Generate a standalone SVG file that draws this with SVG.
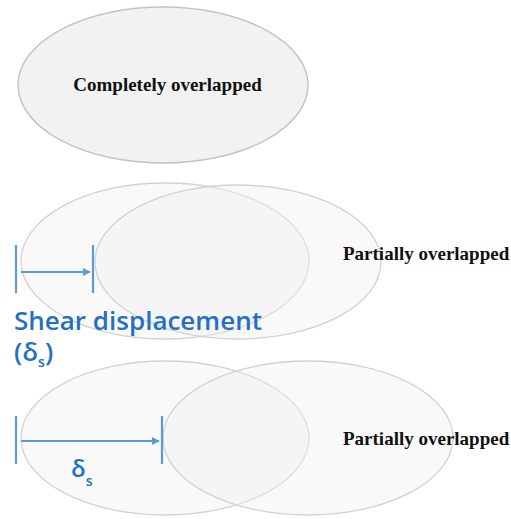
<svg xmlns="http://www.w3.org/2000/svg" width="511" height="519" viewBox="0 0 511 519">
<defs>
<style>
.e{fill:#efefef;fill-opacity:0.4;stroke:#d2d2d2;stroke-width:1.3}
.et{fill:#f2f2f2;stroke:#c4c4c4;stroke-width:1.5}
.lbl{font-family:"Liberation Serif",serif;font-weight:bold;font-size:19px;fill:#111}
.blue{font-family:"Open Sans","Noto Sans",sans-serif;font-weight:600;fill:#2470c2}
.tick{stroke:#5b9bd5;stroke-width:2.2}
.arr{stroke:#5b9bd5;stroke-width:2}
</style>
<marker id="ah" viewBox="0 0 10 10" refX="9" refY="5" markerWidth="4" markerHeight="4" orient="auto" markerUnits="strokeWidth">
<path d="M0,0 L10,5 L0,10 z" fill="#5b9bd5"/>
</marker>
</defs>
<rect width="511" height="519" fill="#ffffff"/>
<g id="node-complete">
<ellipse class="et" cx="163" cy="85" rx="145" ry="78"/>
<text class="lbl" x="167.5" y="91" text-anchor="middle">Completely overlapped</text>
</g>
<g id="node-partial1">
<ellipse class="e" cx="165" cy="261" rx="144" ry="78"/>
<ellipse class="e" cx="238" cy="262" rx="143" ry="77"/>
<text class="lbl" x="343" y="260">Partially overlapped</text>
</g>
<g id="node-partial2">
<ellipse class="e" cx="165" cy="438" rx="144" ry="77"/>
<ellipse class="e" cx="308" cy="438" rx="145" ry="77"/>
<text class="lbl" x="343" y="445">Partially overlapped</text>
</g>
<g id="connectors">
<line class="tick" x1="16" y1="245" x2="16" y2="293"/>
<line class="tick" x1="93" y1="245" x2="93" y2="293"/>
<line class="arr" x1="21" y1="272" x2="90" y2="272" marker-end="url(#ah)"/>
<line class="tick" x1="16" y1="416" x2="16" y2="464"/>
<line class="tick" x1="162" y1="416" x2="162" y2="464"/>
<line class="arr" x1="21" y1="441" x2="159" y2="441" marker-end="url(#ah)"/>
</g>
<g id="labels">
<text class="blue" x="14" y="330" font-size="26">Shear displacement</text>
<text class="blue" x="14" y="361" font-size="26">(δ<tspan font-size="14" dy="6">s</tspan><tspan dy="-6">)</tspan></text>
<text class="blue" x="71" y="477" font-size="24">δ<tspan font-size="14" dy="9">s</tspan></text>
</g>
</svg>
